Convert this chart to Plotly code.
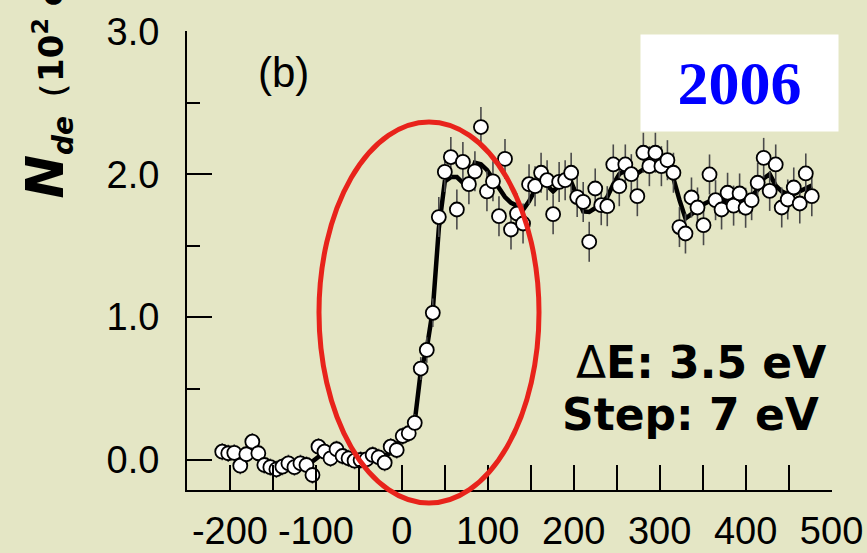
import plotly.graph_objects as go

energy = list(range(-209, 478, 7))  # 7 eV step
counts = [0.058, 0.047, 0.05, -0.04, 0.04, 0.128, 0.047, -0.035, -0.05, -0.065,
          -0.047, -0.023, -0.05, -0.023, -0.035, -0.105, 0.093, 0.058, 0.012, 0.075,
          0.028, 0.012, -0.005, 0.0, 0.005, 0.035, 0.019, -0.019, 0.093, 0.07,
          0.168, 0.187, 0.26, 0.64, 0.77, 1.03, 1.70, 2.016, 2.12, 1.753,
          2.086, 1.93, 2.02, 2.33, 1.88, 1.95, 1.706, 2.107, 1.613, 1.725,
          1.655, 1.93, 1.916, 2.01, 1.958, 1.72, 1.946, 1.958, 2.01, 1.84,
          1.806, 1.527, 1.90, 1.783, 1.776, 2.068, 1.916, 2.068, 2.0, 1.846,
          2.15, 2.056, 2.15, 2.056, 2.098, 2.01, 1.63, 1.585, 1.837, 1.767,
          1.643, 1.998, 1.818, 1.753, 1.87, 1.78, 1.865, 1.765, 1.818, 1.94,
          2.114, 1.883, 2.068, 1.767, 1.823, 1.907, 1.795, 2.005, 1.846]
smooth = [0.05, 0.02, 0.02, 0.02, 0.04, 0.07, 0.05, -0.01, -0.05, -0.05,
          -0.045, -0.04, -0.03, -0.035, -0.05, -0.01, 0.02, 0.055, 0.05, 0.04,
          0.04, 0.01, 0.0, 0.0, 0.015, 0.02, 0.01, 0.03, 0.05, 0.11,
          0.15, 0.19, 0.27, 0.62, 0.78, 1.05, 1.62, 1.95, 1.98, 1.98,
          1.94, 1.96, 2.08, 2.07, 2.03, 1.97, 1.91, 1.84, 1.8, 1.78,
          1.75, 1.81, 1.89, 1.95, 1.92, 1.88, 1.92, 1.958, 1.946, 1.84,
          1.74, 1.736, 1.76, 1.79, 1.84, 1.93, 2.0, 2.025, 1.995, 2.005,
          2.033, 2.06, 2.07, 2.075, 2.06, 1.97, 1.82, 1.69, 1.72, 1.76,
          1.79, 1.81, 1.83, 1.806, 1.818, 1.83, 1.82, 1.81, 1.85, 1.89,
          1.97, 2.0, 1.92, 1.88, 1.86, 1.86, 1.88, 1.9, 1.92]
errors = [0.06] * 33 + [0.08, 0.09, 0.10] + [0.14] * 63

x_ticks = [-200, -100, 0, 100, 200, 300, 400, 500]
y_ticks = [0.0, 1.0, 2.0, 3.0]

BG = "#e4e6c5"
W, H = 867, 553
L, R, T, B = 187, 35, 31, 63
pw, ph = W - L - R, H - T - B

def px2paper_x(px):
    return (px - L) / pw

def py2paper_y(py):
    return (H - B - py) / ph

fig = go.Figure()
fig.add_trace(go.Scatter(x=energy, y=smooth, mode="lines",
                         line=dict(color="black", width=4.5), hoverinfo="skip"))
fig.add_trace(go.Scatter(x=energy, y=counts, mode="markers",
                         marker=dict(size=14, color="white", line=dict(color="black", width=1.8)),
                         error_y=dict(type="data", array=errors, visible=True,
                                      color="#4a4a4a", thickness=1.6, width=0)))

fig.update_layout(
    width=W, height=H,
    margin=dict(l=L, r=R, t=T, b=B, autoexpand=False),
    paper_bgcolor=BG, plot_bgcolor=BG,
    showlegend=False,
    font=dict(family="Liberation Sans, Arial", color="black"),
    xaxis=dict(range=[-250, 500.5], showgrid=False, zeroline=False, automargin=False,
               showline=True, linecolor="black", linewidth=2,
               ticks="inside", ticklen=25, tickwidth=2, tickcolor="black",
               tickvals=x_ticks, ticktext=[str(v) for v in x_ticks],
               tickfont=dict(size=38, family="Liberation Sans, Arial"),
               ticklabelstandoff=6,
               minor=dict(tickvals=[-250, -150, -50, 50, 150, 250, 350, 450],
                          ticks="inside", ticklen=25, tickwidth=2, tickcolor="black")),
    yaxis=dict(range=[-0.21, 3.002], showgrid=False, zeroline=False, automargin=False,
               showline=True, linecolor="black", linewidth=2,
               ticks="inside", ticklen=25, tickwidth=2, tickcolor="black",
               tickvals=y_ticks, ticktext=["%.1f" % v for v in y_ticks],
               tickfont=dict(size=38, family="Liberation Sans, Arial"),
               ticklabelstandoff=18,
               minor=dict(tickvals=[0.5, 1.5, 2.5], ticks="inside", ticklen=13,
                          tickwidth=2, tickcolor="black")),
)

# red ellipse
fig.add_shape(type="circle", xref="paper", yref="paper",
              x0=px2paper_x(319), x1=px2paper_x(539),
              y0=py2paper_y(503), y1=py2paper_y(122),
              line=dict(color="#e8231b", width=5), fillcolor="rgba(0,0,0,0)")

# y-axis title (rotated, cut at top)
fig.add_annotation(
    xref="paper", yref="paper", x=px2paper_x(48), y=py2paper_y(200),
    xanchor="center", yanchor="bottom", textangle=-90, showarrow=False,
    text=("<b><i>N</i></b><sub><span style='font-size:28px'><b><i>de</i></b></span></sub>"
          "<span style='font-size:34px'><b>（10<sup>2</sup> counts）</b></span>"),
    font=dict(family="DejaVu Sans", size=52, color="black"), borderpad=0)

# (b)
fig.add_annotation(xref="paper", yref="paper", x=px2paper_x(283), y=py2paper_y(72),
                   xanchor="center", yanchor="middle", showarrow=False, text="(b)",
                   font=dict(family="Liberation Sans, Arial", size=42, color="black"))

# 2006 box
fig.add_annotation(xref="paper", yref="paper", x=px2paper_x(640), y=py2paper_y(34),
                   xanchor="left", yanchor="top", showarrow=False, text="<b>2006</b>",
                   width=197, height=96, bgcolor="white", borderpad=0, align="center",
                   valign="middle",
                   font=dict(family="Liberation Serif, Times New Roman", size=62, color="#0000ff"))

# Delta E / step
fig.add_annotation(xref="paper", yref="paper", x=px2paper_x(828), y=py2paper_y(362),
                   xanchor="right", yanchor="middle", showarrow=False,
                   text="<span style='font-weight:normal'>Δ</span><b>E: 3.5 eV</b>",
                   font=dict(family="DejaVu Sans", size=44, color="black"))
fig.add_annotation(xref="paper", yref="paper", x=px2paper_x(821), y=py2paper_y(414),
                   xanchor="right", yanchor="middle", showarrow=False,
                   text="<b>Step: 7 eV</b>",
                   font=dict(family="DejaVu Sans", size=44, color="black"))

fig.write_html("out.html", config={"displayModeBar": False},
               post_script="document.body.style.margin='0';document.body.style.overflow='hidden';")
